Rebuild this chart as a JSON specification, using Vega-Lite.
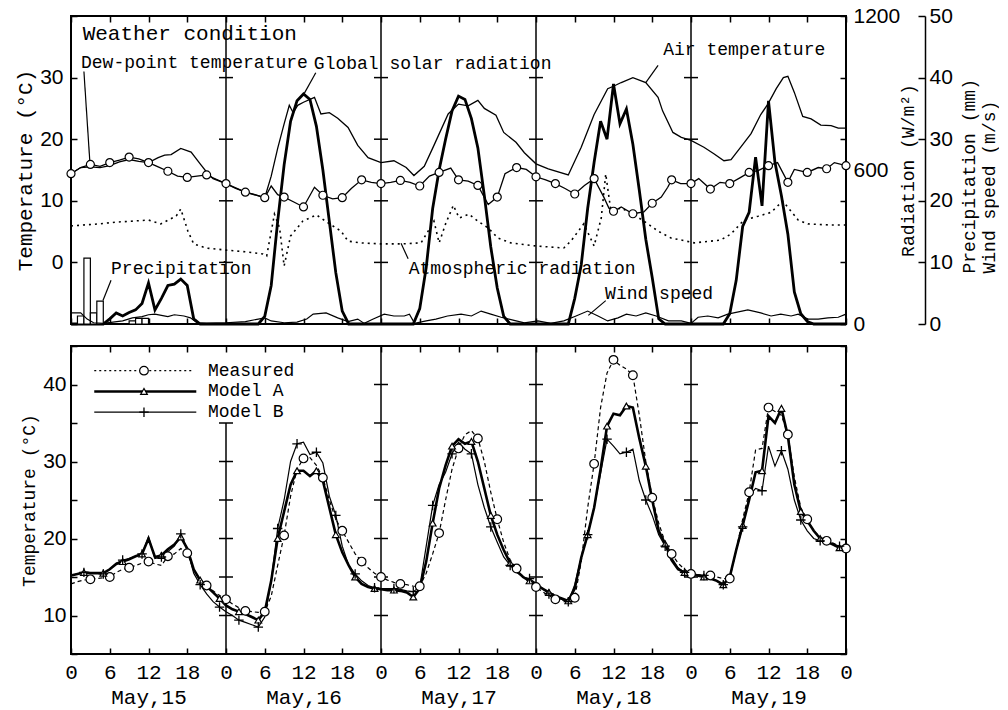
{
"$schema":"https://vega.github.io/schema/vega-lite/v6.json",
"background":"white",
"padding":{"left":13,"top":4,"right":0,"bottom":0},
"spacing":9,
"datasets":{
"airT":[{"h":0,"T":14.4},{"h":1.5,"T":15.4},{"h":3,"T":15.5},{"h":4.5,"T":15.4},{"h":6,"T":15.7},{"h":7.5,"T":16.3},{"h":9,"T":16.7},{"h":10.5,"T":16.4},{"h":12,"T":16.2},{"h":13.5,"T":17.0},{"h":14.5,"T":17.4},{"h":15.5,"T":17.5},{"h":17,"T":18.5},{"h":18.6,"T":17.9},{"h":20,"T":16.0},{"h":21.2,"T":14.4},{"h":22,"T":13.6},{"h":24,"T":12.8},{"h":27,"T":11.4},{"h":30,"T":10.5},{"h":31,"T":14.0},{"h":32,"T":18.5},{"h":33,"T":22.5},{"h":33.8,"T":25.5},{"h":34.4,"T":24.3},{"h":35.1,"T":25.5},{"h":36,"T":26.0},{"h":37.7,"T":26.8},{"h":38.7,"T":24.1},{"h":40,"T":24.3},{"h":41.3,"T":23.4},{"h":42.9,"T":21.9},{"h":44.4,"T":19.0},{"h":46,"T":17.0},{"h":48,"T":16.2},{"h":50,"T":16.5},{"h":51.9,"T":15.4},{"h":53.1,"T":14.1},{"h":54.7,"T":15.6},{"h":56.2,"T":19.0},{"h":58.4,"T":24.1},{"h":60,"T":25.7},{"h":61.5,"T":25.4},{"h":63,"T":26.3},{"h":64,"T":25.0},{"h":65.8,"T":23.9},{"h":67,"T":21.1},{"h":68.9,"T":19.5},{"h":70.2,"T":17.8},{"h":72,"T":16.0},{"h":73.9,"T":15.2},{"h":77,"T":14.2},{"h":79,"T":18.7},{"h":81,"T":24.0},{"h":83.1,"T":28.2},{"h":84,"T":28.6},{"h":85.2,"T":29.2},{"h":87,"T":30.0},{"h":89,"T":29.2},{"h":90.9,"T":26.8},{"h":91.6,"T":24.6},{"h":93.2,"T":21.1},{"h":94.5,"T":20.3},{"h":96,"T":19.8},{"h":98,"T":18.7},{"h":99.6,"T":17.6},{"h":101.1,"T":16.5},{"h":102.2,"T":16.7},{"h":103.7,"T":18.7},{"h":105.3,"T":20.9},{"h":106.8,"T":24.0},{"h":107.9,"T":25.7},{"h":109.2,"T":28.2},{"h":110.3,"T":30.0},{"h":111,"T":30.2},{"h":112,"T":27.6},{"h":113.3,"T":23.7},{"h":114.6,"T":23.3},{"h":116.1,"T":22.3},{"h":117.7,"T":22.2},{"h":118.8,"T":21.8},{"h":120,"T":21.8}],
"dew":[{"h":0,"T":14.4},{"h":1.5,"T":15.4},{"h":3,"T":15.9},{"h":4.5,"T":15.6},{"h":6,"T":16.2},{"h":7.5,"T":16.6},{"h":9,"T":17.1},{"h":10.5,"T":16.8},{"h":12,"T":16.2},{"h":13.5,"T":15.5},{"h":15,"T":14.8},{"h":16.5,"T":14.0},{"h":18,"T":13.8},{"h":19.5,"T":14.0},{"h":21,"T":14.2},{"h":22.5,"T":13.5},{"h":24,"T":12.8},{"h":25.5,"T":12.0},{"h":27,"T":11.4},{"h":28.5,"T":11.0},{"h":30,"T":10.5},{"h":31,"T":12.4},{"h":32,"T":11.0},{"h":33,"T":10.6},{"h":34.5,"T":9.8},{"h":36,"T":9.0},{"h":37.7,"T":12.2},{"h":39,"T":10.9},{"h":40.5,"T":10.3},{"h":42,"T":10.5},{"h":43.4,"T":12.0},{"h":45,"T":13.4},{"h":46.5,"T":13.0},{"h":48,"T":12.8},{"h":49.5,"T":13.0},{"h":51,"T":13.3},{"h":52.5,"T":13.0},{"h":54,"T":12.4},{"h":55.5,"T":14.0},{"h":57,"T":14.6},{"h":58.8,"T":15.3},{"h":60,"T":13.4},{"h":61.5,"T":13.2},{"h":63,"T":12.5},{"h":64.6,"T":9.4},{"h":66,"T":10.6},{"h":67.2,"T":14.4},{"h":69,"T":15.4},{"h":70.5,"T":15.1},{"h":72,"T":13.9},{"h":73.5,"T":13.4},{"h":75,"T":12.8},{"h":76.5,"T":12.0},{"h":78,"T":11.1},{"h":79.5,"T":12.5},{"h":81,"T":13.6},{"h":82.5,"T":10.6},{"h":83.3,"T":8.8},{"h":84,"T":8.3},{"h":85.2,"T":9.0},{"h":87,"T":7.9},{"h":88.7,"T":8.2},{"h":90,"T":9.6},{"h":91.4,"T":10.6},{"h":92.4,"T":12.2},{"h":93,"T":13.4},{"h":94.4,"T":12.8},{"h":96,"T":12.8},{"h":97.2,"T":13.6},{"h":99,"T":11.9},{"h":100.5,"T":13.0},{"h":102,"T":12.8},{"h":103.7,"T":13.8},{"h":105,"T":14.6},{"h":106.4,"T":14.9},{"h":108,"T":15.7},{"h":109.4,"T":16.2},{"h":111,"T":13.0},{"h":112,"T":15.1},{"h":114,"T":14.6},{"h":115.7,"T":15.4},{"h":117,"T":15.2},{"h":118.2,"T":16.2},{"h":120,"T":15.7}],
"leaders":[{"h":2.0,"T":31.0,"h2":2.9,"T2":16.6},{"h":37.9,"T":30.8,"h2":36.1,"T2":27.4},{"h":90.9,"T":32.0,"h2":89.0,"T2":29.2},{"h":6.2,"T":-2.9,"h2":4.95,"T2":-6.2},{"h":52.2,"T":0.6,"h2":51.1,"T2":3.1},{"h":82.8,"T":-6.2,"h2":80.1,"T2":-8.6}],
"notes":[{"h":1.55,"T":32.4,"label":"Dew-point temperature"},{"h":37.6,"T":32.2,"label":"Global solar radiation"},{"h":91.7,"T":34.5,"label":"Air temperature"},{"h":6.2,"T":-1.0,"label":"Precipitation"},{"h":52.3,"T":-1.1,"label":"Atmospheric radiation"},{"h":82.7,"T":-5.2,"label":"Wind speed"}],
"wtitle":[{"h":1.8,"T":37.1,"label":"Weather condition"}],
"days":[{"h":24},{"h":48},{"h":72},{"h":96}],
"crossTop":[{"h":24,"T":0},{"h":24,"T":10},{"h":24,"T":20},{"h":24,"T":30},{"h":48,"T":0},{"h":48,"T":10},{"h":48,"T":20},{"h":48,"T":30},{"h":72,"T":0},{"h":72,"T":10},{"h":72,"T":20},{"h":72,"T":30},{"h":96,"T":0},{"h":96,"T":10},{"h":96,"T":20},{"h":96,"T":30}],
"solar":[{"h":0,"R":0},{"h":5,"R":0},{"h":6,"R":20},{"h":7,"R":43},{"h":8,"R":31},{"h":9,"R":45},{"h":10,"R":55},{"h":11,"R":80},{"h":12,"R":160},{"h":13,"R":55},{"h":14,"R":100},{"h":15,"R":150},{"h":16,"R":155},{"h":17,"R":175},{"h":18,"R":150},{"h":19,"R":20},{"h":20,"R":0},{"h":29,"R":0},{"h":30,"R":30},{"h":31,"R":150},{"h":32,"R":400},{"h":33,"R":620},{"h":34,"R":790},{"h":35,"R":870},{"h":36,"R":896},{"h":37,"R":875},{"h":38,"R":770},{"h":39,"R":600},{"h":40,"R":400},{"h":41,"R":200},{"h":42,"R":50},{"h":43,"R":0},{"h":53,"R":0},{"h":54,"R":60},{"h":55,"R":220},{"h":56,"R":450},{"h":57,"R":600},{"h":58,"R":720},{"h":59,"R":830},{"h":60,"R":888},{"h":61,"R":875},{"h":62,"R":800},{"h":63,"R":686},{"h":64,"R":500},{"h":65,"R":300},{"h":66,"R":140},{"h":67,"R":30},{"h":68,"R":0},{"h":77,"R":0},{"h":78,"R":100},{"h":79,"R":230},{"h":80,"R":450},{"h":81,"R":630},{"h":82,"R":790},{"h":83,"R":720},{"h":84,"R":935},{"h":85,"R":780},{"h":86,"R":838},{"h":87,"R":700},{"h":88,"R":520},{"h":89,"R":330},{"h":90,"R":180},{"h":91,"R":20},{"h":92,"R":0},{"h":101,"R":0},{"h":102,"R":40},{"h":103,"R":170},{"h":104,"R":380},{"h":105,"R":435},{"h":106,"R":650},{"h":107,"R":460},{"h":108,"R":869},{"h":109,"R":630},{"h":110,"R":500},{"h":111,"R":350},{"h":112,"R":125},{"h":113,"R":40},{"h":114,"R":10},{"h":115,"R":0},{"h":120,"R":0}],
"atm":[{"h":0,"R":382},{"h":4.3,"R":390},{"h":7,"R":397},{"h":9.6,"R":401},{"h":12,"R":405},{"h":13.9,"R":390},{"h":16.3,"R":421},{"h":17,"R":448},{"h":18.1,"R":362},{"h":19,"R":312},{"h":20.9,"R":296},{"h":24,"R":288},{"h":27.1,"R":281},{"h":29.7,"R":273},{"h":30.3,"R":265},{"h":31.5,"R":428},{"h":32.3,"R":374},{"h":33,"R":226},{"h":34,"R":343},{"h":35.9,"R":401},{"h":38,"R":425},{"h":39.8,"R":394},{"h":41.8,"R":362},{"h":42.9,"R":323},{"h":44.9,"R":316},{"h":48,"R":312},{"h":51.1,"R":312},{"h":54.2,"R":316},{"h":55.3,"R":362},{"h":56.2,"R":401},{"h":57,"R":316},{"h":58,"R":390},{"h":59.2,"R":462},{"h":60.1,"R":413},{"h":61.6,"R":428},{"h":63,"R":401},{"h":64.6,"R":374},{"h":66.1,"R":335},{"h":68.1,"R":316},{"h":72,"R":304},{"h":76.3,"R":296},{"h":77.4,"R":323},{"h":79.4,"R":390},{"h":81,"R":304},{"h":82.1,"R":413},{"h":82.8,"R":584},{"h":83.6,"R":440},{"h":85.2,"R":452},{"h":87,"R":428},{"h":88.7,"R":401},{"h":90.9,"R":362},{"h":92.9,"R":335},{"h":94.5,"R":327},{"h":96.5,"R":316},{"h":99.1,"R":323},{"h":100.6,"R":327},{"h":102.2,"R":351},{"h":104.2,"R":405},{"h":106.4,"R":420},{"h":108.4,"R":435},{"h":110.2,"R":479},{"h":112.6,"R":405},{"h":114.1,"R":390},{"h":117.2,"R":386},{"h":120,"R":386}],
"precip":[{"h":1,"h2":2,"P":1.3},{"h":2,"h2":3,"P":10.7},{"h":3,"h2":4,"P":1.8},{"h":4,"h2":5,"P":3.7},{"h":9,"h2":10,"P":0.5},{"h":10,"h2":11,"P":0.9},{"h":11,"h2":12,"P":0.9}],
"wind":[{"h":0,"W":1.8},{"h":1.5,"W":1.8},{"h":2.5,"W":0.8},{"h":3.5,"W":0.2},{"h":5,"W":0.1},{"h":6.5,"W":0.3},{"h":8,"W":0.5},{"h":9.5,"W":1.0},{"h":11,"W":1.2},{"h":12,"W":1.5},{"h":13,"W":1.6},{"h":14,"W":1.4},{"h":15,"W":1.2},{"h":16,"W":1.5},{"h":17.5,"W":1.3},{"h":18.5,"W":1.0},{"h":19.5,"W":0.2},{"h":21,"W":0.1},{"h":24,"W":0.2},{"h":27,"W":0.4},{"h":29,"W":0.8},{"h":30,"W":1.0},{"h":31,"W":0.5},{"h":33,"W":0.2},{"h":35,"W":0.3},{"h":36.5,"W":0.8},{"h":37.5,"W":1.6},{"h":39.5,"W":1.8},{"h":41.3,"W":1.0},{"h":42.9,"W":0.4},{"h":44.4,"W":0.8},{"h":45.4,"W":0.1},{"h":46.8,"W":0.8},{"h":48.5,"W":1.6},{"h":50,"W":1.3},{"h":51.6,"W":1.3},{"h":52.4,"W":1.6},{"h":53.2,"W":0.1},{"h":55,"W":0.5},{"h":56.5,"W":0.8},{"h":58.3,"W":1.3},{"h":60.4,"W":1.6},{"h":62,"W":1.3},{"h":63.5,"W":2.1},{"h":65,"W":1.6},{"h":66.6,"W":1.1},{"h":68.6,"W":0.6},{"h":70.2,"W":0.2},{"h":72.3,"W":0.5},{"h":74.3,"W":0.1},{"h":76.3,"W":0.5},{"h":78.2,"W":1.3},{"h":80,"W":2.1},{"h":81.6,"W":1.3},{"h":83.1,"W":0.5},{"h":84.7,"W":1.0},{"h":86,"W":1.6},{"h":87.5,"W":1.3},{"h":89,"W":1.8},{"h":90.6,"W":1.3},{"h":92.5,"W":0.5},{"h":94.5,"W":0.5},{"h":96,"W":0.1},{"h":97.1,"W":1.1},{"h":98.6,"W":1.3},{"h":100.2,"W":1.0},{"h":101.7,"W":1.6},{"h":104.8,"W":2.3},{"h":106.8,"W":1.8},{"h":108.4,"W":1.3},{"h":109.9,"W":1.6},{"h":111.5,"W":1.3},{"h":112.6,"W":1.6},{"h":114.1,"W":0.8},{"h":115.7,"W":0.8},{"h":117.2,"W":1.0},{"h":118.8,"W":1.1},{"h":120,"W":1.6}],
"meas":[{"h":0,"T":14.1},{"h":1,"T":14.4},{"h":2,"T":14.6},{"h":3,"T":14.7},{"h":4,"T":14.8},{"h":5,"T":14.9},{"h":6,"T":15.0},{"h":7,"T":15.6},{"h":8,"T":16.0},{"h":9,"T":16.2},{"h":10,"T":16.5},{"h":11,"T":16.8},{"h":12,"T":17.0},{"h":13,"T":16.7},{"h":14,"T":16.5},{"h":15,"T":17.7},{"h":16,"T":18.0},{"h":17,"T":18.7},{"h":18,"T":18.1},{"h":19,"T":16.0},{"h":20,"T":14.6},{"h":21,"T":13.9},{"h":22,"T":13.2},{"h":23,"T":12.6},{"h":24,"T":12.1},{"h":25,"T":11.5},{"h":26,"T":11.0},{"h":27,"T":10.6},{"h":28,"T":10.5},{"h":29,"T":10.4},{"h":30,"T":10.5},{"h":31,"T":12.5},{"h":32,"T":16.5},{"h":33,"T":20.4},{"h":34,"T":25.5},{"h":35,"T":29.0},{"h":36,"T":30.4},{"h":37,"T":30.5},{"h":38,"T":29.5},{"h":39,"T":27.9},{"h":40,"T":25.0},{"h":41,"T":22.5},{"h":42,"T":21.0},{"h":43,"T":19.5},{"h":44,"T":18.0},{"h":45,"T":17.0},{"h":46,"T":16.2},{"h":47,"T":15.5},{"h":48,"T":15.0},{"h":49,"T":14.6},{"h":50,"T":14.3},{"h":51,"T":14.1},{"h":52,"T":14.0},{"h":53,"T":13.8},{"h":54,"T":13.8},{"h":55,"T":15.5},{"h":56,"T":18.0},{"h":57,"T":20.7},{"h":58,"T":25.0},{"h":59,"T":29.0},{"h":60,"T":31.7},{"h":61,"T":33.5},{"h":62,"T":34.0},{"h":63,"T":33.0},{"h":64,"T":30.0},{"h":65,"T":26.0},{"h":66,"T":22.5},{"h":67,"T":19.5},{"h":68,"T":17.2},{"h":69,"T":16.1},{"h":70,"T":15.0},{"h":71,"T":14.3},{"h":72,"T":13.7},{"h":73,"T":13.1},{"h":74,"T":12.6},{"h":75,"T":12.1},{"h":76,"T":12.0},{"h":77,"T":12.0},{"h":78,"T":12.3},{"h":79,"T":17.0},{"h":80,"T":24.0},{"h":81,"T":29.7},{"h":82,"T":37.0},{"h":83,"T":41.5},{"h":84,"T":43.2},{"h":85,"T":42.5},{"h":86,"T":42.0},{"h":87,"T":41.2},{"h":88,"T":36.0},{"h":89,"T":30.0},{"h":90,"T":25.3},{"h":91,"T":22.0},{"h":92,"T":19.5},{"h":93,"T":18.0},{"h":94,"T":16.8},{"h":95,"T":16.0},{"h":96,"T":15.4},{"h":97,"T":15.3},{"h":98,"T":15.2},{"h":99,"T":15.2},{"h":100,"T":15.0},{"h":101,"T":14.8},{"h":102,"T":14.8},{"h":103,"T":18.5},{"h":104,"T":22.5},{"h":105,"T":26.0},{"h":106,"T":31.5},{"h":107,"T":31.7},{"h":108,"T":37.0},{"h":109,"T":36.5},{"h":110,"T":36.0},{"h":111,"T":33.5},{"h":112,"T":28.0},{"h":113,"T":24.0},{"h":114,"T":22.5},{"h":115,"T":21.0},{"h":116,"T":20.2},{"h":117,"T":19.7},{"h":118,"T":19.4},{"h":119,"T":19.0},{"h":120,"T":18.7}],
"ma":[{"h":0,"T":15.2},{"h":1,"T":15.4},{"h":2,"T":15.6},{"h":3,"T":15.5},{"h":4,"T":15.5},{"h":5,"T":15.5},{"h":6,"T":16.0},{"h":7,"T":16.7},{"h":8,"T":17.0},{"h":9,"T":17.3},{"h":10,"T":17.7},{"h":11,"T":18.0},{"h":12,"T":20.0},{"h":13,"T":17.6},{"h":14,"T":17.8},{"h":15,"T":18.6},{"h":16,"T":19.2},{"h":17,"T":20.2},{"h":18,"T":18.7},{"h":19,"T":16.0},{"h":20,"T":14.6},{"h":21,"T":13.8},{"h":22,"T":13.0},{"h":23,"T":12.2},{"h":24,"T":11.3},{"h":25,"T":10.8},{"h":26,"T":10.5},{"h":27,"T":10.2},{"h":28,"T":9.8},{"h":29,"T":9.4},{"h":30,"T":10.5},{"h":31,"T":14.5},{"h":32,"T":20.0},{"h":33,"T":23.5},{"h":34,"T":27.0},{"h":35,"T":28.8},{"h":36,"T":28.8},{"h":37,"T":28.1},{"h":38,"T":28.8},{"h":39,"T":27.5},{"h":40,"T":24.0},{"h":41,"T":20.5},{"h":42,"T":18.2},{"h":43,"T":16.5},{"h":44,"T":15.0},{"h":45,"T":14.1},{"h":46,"T":13.7},{"h":47,"T":13.5},{"h":48,"T":13.4},{"h":49,"T":13.3},{"h":50,"T":13.3},{"h":51,"T":13.2},{"h":52,"T":13.0},{"h":53,"T":12.4},{"h":54,"T":13.5},{"h":55,"T":17.0},{"h":56,"T":22.0},{"h":57,"T":26.5},{"h":58,"T":29.5},{"h":59,"T":32.0},{"h":60,"T":32.9},{"h":61,"T":32.3},{"h":62,"T":32.6},{"h":63,"T":30.0},{"h":64,"T":26.5},{"h":65,"T":23.0},{"h":66,"T":20.5},{"h":67,"T":18.5},{"h":68,"T":16.8},{"h":69,"T":15.8},{"h":70,"T":15.0},{"h":71,"T":14.5},{"h":72,"T":14.0},{"h":73,"T":13.5},{"h":74,"T":13.0},{"h":75,"T":12.5},{"h":76,"T":12.2},{"h":77,"T":11.9},{"h":78,"T":13.5},{"h":79,"T":17.5},{"h":80,"T":20.5},{"h":81,"T":24.0},{"h":82,"T":29.0},{"h":83,"T":34.6},{"h":84,"T":36.2},{"h":85,"T":36.0},{"h":86,"T":37.2},{"h":87,"T":37.0},{"h":88,"T":33.0},{"h":89,"T":29.4},{"h":90,"T":25.0},{"h":91,"T":21.0},{"h":92,"T":19.3},{"h":93,"T":17.2},{"h":94,"T":16.0},{"h":95,"T":15.6},{"h":96,"T":15.4},{"h":97,"T":15.2},{"h":98,"T":15.0},{"h":99,"T":14.8},{"h":100,"T":14.5},{"h":101,"T":14.0},{"h":102,"T":15.0},{"h":103,"T":18.5},{"h":104,"T":21.7},{"h":105,"T":25.0},{"h":106,"T":28.6},{"h":107,"T":28.8},{"h":108,"T":35.9},{"h":109,"T":35.0},{"h":110,"T":36.9},{"h":111,"T":33.3},{"h":112,"T":27.0},{"h":113,"T":23.5},{"h":114,"T":22.3},{"h":115,"T":21.0},{"h":116,"T":20.0},{"h":117,"T":19.6},{"h":118,"T":19.2},{"h":119,"T":18.8},{"h":120,"T":18.5}],
"mb":[{"h":0,"T":15.2},{"h":1,"T":15.4},{"h":2,"T":15.6},{"h":3,"T":15.5},{"h":4,"T":15.5},{"h":5,"T":15.4},{"h":6,"T":16.0},{"h":7,"T":16.8},{"h":8,"T":17.2},{"h":9,"T":17.4},{"h":10,"T":17.7},{"h":11,"T":18.0},{"h":12,"T":20.2},{"h":13,"T":17.4},{"h":14,"T":17.6},{"h":15,"T":18.3},{"h":16,"T":19.0},{"h":17,"T":20.6},{"h":18,"T":18.6},{"h":19,"T":15.5},{"h":20,"T":14.0},{"h":21,"T":12.8},{"h":22,"T":11.8},{"h":23,"T":11.1},{"h":24,"T":10.5},{"h":25,"T":10.0},{"h":26,"T":9.4},{"h":27,"T":9.1},{"h":28,"T":8.8},{"h":29,"T":8.5},{"h":30,"T":9.8},{"h":31,"T":14.5},{"h":32,"T":21.3},{"h":33,"T":25.0},{"h":34,"T":30.0},{"h":35,"T":32.3},{"h":36,"T":32.5},{"h":37,"T":30.9},{"h":38,"T":31.2},{"h":39,"T":29.8},{"h":40,"T":25.5},{"h":41,"T":23.0},{"h":42,"T":19.0},{"h":43,"T":16.5},{"h":44,"T":15.4},{"h":45,"T":14.5},{"h":46,"T":13.9},{"h":47,"T":13.6},{"h":48,"T":13.5},{"h":49,"T":13.5},{"h":50,"T":13.5},{"h":51,"T":13.4},{"h":52,"T":13.2},{"h":53,"T":13.1},{"h":54,"T":13.7},{"h":55,"T":19.0},{"h":56,"T":24.3},{"h":57,"T":27.0},{"h":58,"T":28.6},{"h":59,"T":31.0},{"h":60,"T":32.5},{"h":61,"T":31.6},{"h":62,"T":31.0},{"h":63,"T":27.0},{"h":64,"T":24.0},{"h":65,"T":21.5},{"h":66,"T":19.5},{"h":67,"T":17.6},{"h":68,"T":16.5},{"h":69,"T":15.6},{"h":70,"T":15.0},{"h":71,"T":14.8},{"h":72,"T":14.2},{"h":73,"T":13.5},{"h":74,"T":12.8},{"h":75,"T":12.4},{"h":76,"T":12.1},{"h":77,"T":11.8},{"h":78,"T":14.0},{"h":79,"T":17.5},{"h":80,"T":20.5},{"h":81,"T":24.0},{"h":82,"T":28.5},{"h":83,"T":32.9},{"h":84,"T":32.0},{"h":85,"T":31.0},{"h":86,"T":31.2},{"h":87,"T":31.6},{"h":88,"T":27.5},{"h":89,"T":25.0},{"h":90,"T":23.0},{"h":91,"T":20.5},{"h":92,"T":19.0},{"h":93,"T":17.5},{"h":94,"T":16.2},{"h":95,"T":15.6},{"h":96,"T":15.4},{"h":97,"T":15.3},{"h":98,"T":15.2},{"h":99,"T":15.0},{"h":100,"T":14.5},{"h":101,"T":14.0},{"h":102,"T":15.0},{"h":103,"T":18.5},{"h":104,"T":21.5},{"h":105,"T":25.5},{"h":106,"T":26.5},{"h":107,"T":26.2},{"h":108,"T":32.0},{"h":109,"T":29.4},{"h":110,"T":31.4},{"h":111,"T":29.0},{"h":112,"T":25.0},{"h":113,"T":22.4},{"h":114,"T":21.0},{"h":115,"T":20.0},{"h":116,"T":19.7},{"h":117,"T":19.5},{"h":118,"T":19.3},{"h":119,"T":19.0},{"h":120,"T":18.7}],
"bDays":[{"h":24,"lo":5,"hi":35},{"h":48,"lo":5,"hi":45},{"h":72,"lo":5,"hi":45},{"h":96,"lo":5,"hi":45}],
"crossBot":[{"h":24,"T":10},{"h":24,"T":15},{"h":24,"T":20},{"h":24,"T":25},{"h":24,"T":30},{"h":24,"T":35},{"h":48,"T":10},{"h":48,"T":15},{"h":48,"T":20},{"h":48,"T":25},{"h":48,"T":30},{"h":48,"T":35},{"h":48,"T":40},{"h":72,"T":10},{"h":72,"T":15},{"h":72,"T":20},{"h":72,"T":25},{"h":72,"T":30},{"h":72,"T":35},{"h":72,"T":40},{"h":96,"T":10},{"h":96,"T":15},{"h":96,"T":20},{"h":96,"T":25},{"h":96,"T":30},{"h":96,"T":35},{"h":96,"T":40}],
"leg":[{"s":"Measured","h1":3.6,"h2":18.9,"hm":11.3,"ht":21.2,"T":41.8},{"s":"Model A","h1":3.6,"h2":19.4,"hm":11.3,"ht":21.2,"T":39.1},{"s":"Model B","h1":3.6,"h2":19.4,"hm":11.3,"ht":21.2,"T":36.4}]
},
"vconcat":[
{
"width":775,"height":308,
"layer":[
  {"data":{"name":"solar"},"mark":{"type":"line","color":"black","strokeWidth":2.8},
   "encoding":{
    "x":{"field":"h","type":"quantitative","scale":{"domain":[0,120],"nice":false,"zero":false},"axis":{"orient":"top","values":[0,6,12,18,24,30,36,42,48,54,60,66,72,78,84,90,96,102,108,114,120],"labels":false,"tickSize":-6,"title":null}},
    "y":{"field":"R","type":"quantitative","scale":{"domain":[0,1200],"nice":false,"zero":false},"axis":{"orient":"right","values":[0,240,480,600,720,960,1200],"format":"d","labelExpr":"datum.value == 0 || datum.value == 600 || datum.value == 1200 ? datum.label : ''","tickColor":{"condition":{"test":"datum.value == 600","value":"transparent"},"value":"black"},"tickSize":-6,"labelPadding":13,"title":"Radiation (W/m²)","titleAngle":270,"titleBaseline":"top","titleFontSize":18,"titlePadding":0}}}},
  {"data":{"name":"atm"},"mark":{"type":"line","color":"black","strokeWidth":1.6,"strokeDash":[2,4]},
   "encoding":{
    "x":{"field":"h","type":"quantitative","scale":{"domain":[0,120],"nice":false,"zero":false},"axis":null},
    "y":{"field":"R","type":"quantitative","scale":{"domain":[0,1200],"nice":false,"zero":false},"axis":null}}},
  {"data":{"name":"precip"},"mark":{"type":"bar","fill":"white","stroke":"black","strokeWidth":1.2},
   "encoding":{
    "x":{"field":"h","type":"quantitative","scale":{"domain":[0,120],"nice":false,"zero":false},"axis":null},
    "x2":{"field":"h2"},
    "y":{"field":"P","type":"quantitative","scale":{"domain":[0,50],"nice":false,"zero":false},"axis":{"orient":"right","offset":79,"values":[0,10,20,30,40,50],"domain":true,"domainColor":"black","domainWidth":1.5,"tickSize":-7,"labelPadding":11,"title":["Precipitation (mm)","Wind speed (m/s)"],"titleAngle":270,"titleBaseline":"top","titleAlign":"left","titleX":35,"titleY":257,"titleFontSize":18,"titleLineHeight":20}},
    "y2":{"datum":0}}},
  {"data":{"name":"wind"},"mark":{"type":"line","color":"black","strokeWidth":1.2},
   "encoding":{
    "x":{"field":"h","type":"quantitative","scale":{"domain":[0,120],"nice":false,"zero":false},"axis":null},
    "y":{"field":"W","type":"quantitative","scale":{"domain":[0,50],"nice":false,"zero":false},"axis":null}}},
  {"data":{"name":"days"},"mark":{"type":"rule","color":"black","strokeWidth":1.5},
   "encoding":{"x":{"field":"h","type":"quantitative","scale":{"domain":[0,120],"nice":false,"zero":false},"axis":null}}},
  {"data":{"name":"crossTop"},"mark":{"type":"tick","orient":"horizontal","size":14,"thickness":1.5,"color":"black","opacity":1},
   "encoding":{
    "x":{"field":"h","type":"quantitative","scale":{"domain":[0,120],"nice":false,"zero":false},"axis":null},
    "y":{"field":"T","type":"quantitative","scale":{"domain":[-10,40],"nice":false,"zero":false},"axis":null}}},
  {"data":{"name":"airT"},"mark":{"type":"line","color":"black","strokeWidth":1.3},
   "encoding":{
    "x":{"field":"h","type":"quantitative","scale":{"domain":[0,120],"nice":false,"zero":false},"axis":{"orient":"bottom","values":[0,6,12,18,24,30,36,42,48,54,60,66,72,78,84,90,96,102,108,114,120],"labels":false,"tickSize":-6,"title":null}},
    "y":{"field":"T","type":"quantitative","scale":{"domain":[-10,40],"nice":false,"zero":false},"axis":{"orient":"left","values":[-10,0,10,20,30,40],"labelExpr":"datum.value >= 0 && datum.value <= 30 ? datum.label : ''","tickSize":-6,"labelPadding":14,"title":"Temperature (°C)","titlePadding":4}}}},
  {"data":{"name":"dew"},"mark":{"type":"line","color":"black","strokeWidth":1.3},
   "encoding":{
    "x":{"field":"h","type":"quantitative","scale":{"domain":[0,120],"nice":false,"zero":false},"axis":null},
    "y":{"field":"T","type":"quantitative","scale":{"domain":[-10,40],"nice":false,"zero":false},"axis":null}}},
  {"data":{"name":"dew"},"transform":[{"filter":"datum.h % 3 == 0"}],"mark":{"type":"point","shape":"circle","size":64,"filled":true,"fill":"white","stroke":"black","strokeWidth":1.2,"opacity":1},
   "encoding":{
    "x":{"field":"h","type":"quantitative","scale":{"domain":[0,120],"nice":false,"zero":false},"axis":null},
    "y":{"field":"T","type":"quantitative","scale":{"domain":[-10,40],"nice":false,"zero":false},"axis":null}}},
  {"data":{"name":"leaders"},"mark":{"type":"rule","color":"black","strokeWidth":1.2},
   "encoding":{
    "x":{"field":"h","type":"quantitative","scale":{"domain":[0,120],"nice":false,"zero":false},"axis":null},
    "y":{"field":"T","type":"quantitative","scale":{"domain":[-10,40],"nice":false,"zero":false},"axis":null},
    "x2":{"field":"h2"},"y2":{"field":"T2"}}},
  {"data":{"name":"notes"},"mark":{"type":"text","align":"left","baseline":"middle","font":"Liberation Mono","fontSize":18,"color":"black"},
   "encoding":{
    "x":{"field":"h","type":"quantitative","scale":{"domain":[0,120],"nice":false,"zero":false},"axis":null},
    "y":{"field":"T","type":"quantitative","scale":{"domain":[-10,40],"nice":false,"zero":false},"axis":null},
    "text":{"field":"label"}}},
  {"data":{"name":"wtitle"},"mark":{"type":"text","align":"left","baseline":"middle","font":"Liberation Mono","fontSize":21,"color":"black"},
   "encoding":{
    "x":{"field":"h","type":"quantitative","scale":{"domain":[0,120],"nice":false,"zero":false},"axis":null},
    "y":{"field":"T","type":"quantitative","scale":{"domain":[-10,40],"nice":false,"zero":false},"axis":null},
    "text":{"field":"label"}}}
],
"resolve":{"scale":{"y":"independent"},"axis":{"x":"independent","y":"independent"}}
},
{
"width":775,"height":308,
"layer":[
  {"data":{"name":"meas"},"mark":{"type":"line","color":"black","strokeWidth":1.2,"strokeDash":[4,3]},
   "encoding":{
    "x":{"field":"h","type":"quantitative","scale":{"domain":[0,120],"nice":false,"zero":false},"axis":{"orient":"bottom","values":[0,6,12,18,24,30,36,42,48,54,60,66,72,78,84,90,96,102,108,114,120],"tickSize":-6,"labelFlush":false,"labelOverlap":false,"labelBound":false,"labelFont":"Liberation Mono","labelFontSize":21,"labelPadding":13,"labelLineHeight":25,"labelExpr":"datum.value % 24 == 12 ? ['12', 'May,' + (15 + floor(datum.value / 24))] : '' + (datum.value % 24)","title":null}},
    "y":{"field":"T","type":"quantitative","scale":{"domain":[5,45],"nice":false,"zero":false},"axis":{"orient":"left","values":[5,10,15,20,25,30,35,40,45],"labelExpr":"datum.value % 10 == 0 && datum.value < 45 ? datum.label : ''","tickSize":-6,"labelPadding":11,"title":"Temperature (°C)","titleFontSize":18,"titlePadding":4}}}},
  {"data":{"name":"ma"},"mark":{"type":"line","color":"black","strokeWidth":2.6},
   "encoding":{
    "x":{"field":"h","type":"quantitative","scale":{"domain":[0,120],"nice":false,"zero":false},"axis":null},
    "y":{"field":"T","type":"quantitative","scale":{"domain":[5,45],"nice":false,"zero":false},"axis":null}}},
  {"data":{"name":"mb"},"mark":{"type":"line","color":"black","strokeWidth":1.2},
   "encoding":{
    "x":{"field":"h","type":"quantitative","scale":{"domain":[0,120],"nice":false,"zero":false},"axis":null},
    "y":{"field":"T","type":"quantitative","scale":{"domain":[5,45],"nice":false,"zero":false},"axis":null}}},
  {"data":{"name":"bDays"},"mark":{"type":"rule","color":"black","strokeWidth":1.5},
   "encoding":{
    "x":{"field":"h","type":"quantitative","scale":{"domain":[0,120],"nice":false,"zero":false},"axis":null},
    "y":{"field":"lo","type":"quantitative","scale":{"domain":[5,45],"nice":false,"zero":false},"axis":null},
    "y2":{"field":"hi"}}},
  {"data":{"name":"crossBot"},"mark":{"type":"tick","orient":"horizontal","size":14,"thickness":1.5,"color":"black","opacity":1},
   "encoding":{
    "x":{"field":"h","type":"quantitative","scale":{"domain":[0,120],"nice":false,"zero":false},"axis":null},
    "y":{"field":"T","type":"quantitative","scale":{"domain":[5,45],"nice":false,"zero":false},"axis":null}}},
  {"data":{"name":"meas"},"transform":[{"filter":"datum.h % 3 == 0 && datum.h > 0"}],"mark":{"type":"point","shape":"circle","size":75,"filled":true,"fill":"white","stroke":"black","strokeWidth":1.2,"opacity":1},
   "encoding":{
    "x":{"field":"h","type":"quantitative","scale":{"domain":[0,120],"nice":false,"zero":false},"axis":null},
    "y":{"field":"T","type":"quantitative","scale":{"domain":[5,45],"nice":false,"zero":false},"axis":null}}},
  {"data":{"name":"ma"},"transform":[{"filter":"datum.h % 3 == 2"}],"mark":{"type":"point","shape":"triangle-up","size":45,"filled":true,"fill":"white","stroke":"black","strokeWidth":1.2,"opacity":1},
   "encoding":{
    "x":{"field":"h","type":"quantitative","scale":{"domain":[0,120],"nice":false,"zero":false},"axis":null},
    "y":{"field":"T","type":"quantitative","scale":{"domain":[5,45],"nice":false,"zero":false},"axis":null}}},
  {"data":{"name":"mb"},"transform":[{"filter":"datum.h % 3 == 2"}],"mark":{"type":"point","shape":"M-1,0H1M0,-1V1","size":90,"filled":false,"color":"black","strokeWidth":1.3,"opacity":1},
   "encoding":{
    "x":{"field":"h","type":"quantitative","scale":{"domain":[0,120],"nice":false,"zero":false},"axis":null},
    "y":{"field":"T","type":"quantitative","scale":{"domain":[5,45],"nice":false,"zero":false},"axis":null}}},
  {"data":{"name":"leg"},"transform":[{"filter":"datum.s == 'Measured'"}],"mark":{"type":"rule","color":"black","strokeWidth":1.2,"strokeDash":[2,3]},
   "encoding":{
    "x":{"field":"h1","type":"quantitative","scale":{"domain":[0,120],"nice":false,"zero":false},"axis":null},
    "x2":{"field":"h2"},
    "y":{"field":"T","type":"quantitative","scale":{"domain":[5,45],"nice":false,"zero":false},"axis":null}}},
  {"data":{"name":"leg"},"transform":[{"filter":"datum.s == 'Model A'"}],"mark":{"type":"rule","color":"black","strokeWidth":2.6},
   "encoding":{
    "x":{"field":"h1","type":"quantitative","scale":{"domain":[0,120],"nice":false,"zero":false},"axis":null},
    "x2":{"field":"h2"},
    "y":{"field":"T","type":"quantitative","scale":{"domain":[5,45],"nice":false,"zero":false},"axis":null}}},
  {"data":{"name":"leg"},"transform":[{"filter":"datum.s == 'Model B'"}],"mark":{"type":"rule","color":"black","strokeWidth":1.2},
   "encoding":{
    "x":{"field":"h1","type":"quantitative","scale":{"domain":[0,120],"nice":false,"zero":false},"axis":null},
    "x2":{"field":"h2"},
    "y":{"field":"T","type":"quantitative","scale":{"domain":[5,45],"nice":false,"zero":false},"axis":null}}},
  {"data":{"name":"leg"},"transform":[{"filter":"datum.s == 'Measured'"}],"mark":{"type":"point","shape":"circle","size":75,"filled":true,"fill":"white","stroke":"black","strokeWidth":1.2,"opacity":1},
   "encoding":{
    "x":{"field":"hm","type":"quantitative","scale":{"domain":[0,120],"nice":false,"zero":false},"axis":null},
    "y":{"field":"T","type":"quantitative","scale":{"domain":[5,45],"nice":false,"zero":false},"axis":null}}},
  {"data":{"name":"leg"},"transform":[{"filter":"datum.s == 'Model A'"}],"mark":{"type":"point","shape":"triangle-up","size":45,"filled":true,"fill":"white","stroke":"black","strokeWidth":1.2,"opacity":1},
   "encoding":{
    "x":{"field":"hm","type":"quantitative","scale":{"domain":[0,120],"nice":false,"zero":false},"axis":null},
    "y":{"field":"T","type":"quantitative","scale":{"domain":[5,45],"nice":false,"zero":false},"axis":null}}},
  {"data":{"name":"leg"},"transform":[{"filter":"datum.s == 'Model B'"}],"mark":{"type":"point","shape":"M-1,0H1M0,-1V1","size":90,"filled":false,"color":"black","strokeWidth":1.3,"opacity":1},
   "encoding":{
    "x":{"field":"hm","type":"quantitative","scale":{"domain":[0,120],"nice":false,"zero":false},"axis":null},
    "y":{"field":"T","type":"quantitative","scale":{"domain":[5,45],"nice":false,"zero":false},"axis":null}}},
  {"data":{"name":"leg"},"mark":{"type":"text","align":"left","baseline":"middle","font":"Liberation Mono","fontSize":18,"color":"black"},
   "encoding":{
    "x":{"field":"ht","type":"quantitative","scale":{"domain":[0,120],"nice":false,"zero":false},"axis":null},
    "y":{"field":"T","type":"quantitative","scale":{"domain":[5,45],"nice":false,"zero":false},"axis":null},
    "text":{"field":"s"}}},
  {"data":{"name":"bDays"},"mark":{"type":"rule","opacity":0},
   "encoding":{
    "x":{"field":"h","type":"quantitative","scale":{"domain":[0,120],"nice":false,"zero":false},"axis":{"orient":"top","values":[0,6,12,18,24,30,36,42,48,54,60,66,72,78,84,90,96,102,108,114,120],"labels":false,"tickSize":-6,"title":null}},
    "y":{"field":"lo","type":"quantitative","scale":{"domain":[5,45],"nice":false,"zero":false},"axis":{"orient":"right","values":[5,10,15,20,25,30,35,40,45],"labels":false,"tickSize":-6,"title":null}},
    "y2":{"field":"hi"}}}
],
"resolve":{"axis":{"x":"independent","y":"independent"}}
}
],
"config":{
 "view":{"stroke":"black","strokeWidth":2},
 "axis":{"grid":false,"domain":false,"tickColor":"black","tickWidth":1.5,"labelColor":"black","titleColor":"black","labelFont":"Liberation Sans","labelFontSize":21,"titleFont":"Liberation Mono","titleFontWeight":"normal","titleFontSize":21},
 "text":{"font":"Liberation Mono","color":"black"},
 "concat":{"spacing":9}
}
}
